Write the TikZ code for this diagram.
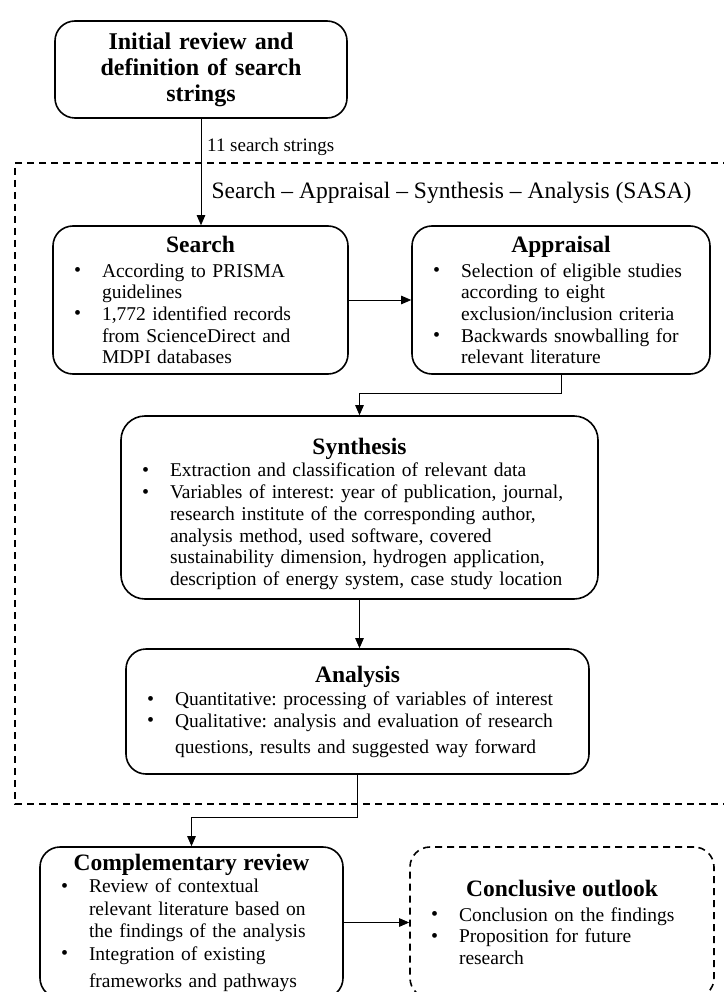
\documentclass[tikz,border=0pt]{standalone}
\usepackage{fontspec}
\setmainfont{Liberation Serif}
\usetikzlibrary{arrows.meta}

\newcommand\bulletglyph{\raisebox{0.5pt}{\fontsize{20}{20}\selectfont\textbullet}}
\newcommand\bitem[1]{{\leftskip=27pt\noindent\llap{\makebox[27pt][l]{\hspace{-1pt}\bulletglyph}}#1\par}}
\newcommand\btitle[1]{{\centering\fontsize{23.5}{25}\selectfont\bfseries #1\par}\vspace{3pt}}
\newcommand\bodyfont{\frenchspacing\fontsize{19.5}{21.7}\selectfont}

\tikzset{
  box/.style={draw, line width=1.6pt, rounded corners=20pt, inner xsep=22pt,
    inner ysep=0pt, align=left, font=\bodyfont},
  dbox/.style={box, dash pattern=on 7pt off 5pt},
  arr/.style={-{Triangle[length=10pt,width=8.5pt]}, line width=0.8pt},
  frame/.style={line width=1.5pt, dash pattern=on 7pt off 5pt}
}

\begin{document}
\begin{tikzpicture}[x=1pt,y=-1pt]
\useasboundingbox (0,0) rectangle (723,992);

\node[box, text width=248pt, minimum height=97pt, align=center,
      font=\fontsize{24}{26}\selectfont\bfseries] (top) at (201,69.5)
  {Initial review and\\definition of search\\strings};

\draw[frame] (730,163) -- (15,163) -- (15,804) -- (730,804);

\node[anchor=west, inner sep=0pt, font=\fontsize{19}{20}\selectfont] (lbl) at (207,147) {11 search strings};
\node[inner sep=0pt, font=\fontsize{23.5}{25}\selectfont] (sasa) at (451.5,193)
  {Search -- Appraisal -- Synthesis -- Analysis (SASA)};

\node[box, text width=251pt, minimum height=148pt] (search) at (200.5,300) {%
  \btitle{Search}
  \bitem{According to PRISMA\\guidelines}
  \bitem{1,772 identified records\\from ScienceDirect and\\MDPI databases}};

\node[box, text width=254pt, minimum height=148pt] (appr) at (561,300) {%
  \btitle{Appraisal}
  \bitem{Selection of eligible studies\\according to eight\\exclusion/inclusion criteria}
  \bitem{Backwards snowballing for\\relevant literature}};

\node[box, text width=433pt, minimum height=183pt, rounded corners=24pt] (synth) at (359.5,507.5) {%
  \par\vspace*{4pt}\btitle{Synthesis}\vspace{-2pt}
  \bitem{Extraction and classification of relevant data}
  \bitem{Variables of interest: year of publication, journal,\\research institute of the corresponding author,\\analysis method, used software, covered\\sustainability dimension, hydrogen application,\\description of energy system, case study location}};

\node[box, text width=419pt, minimum height=125pt] (anal) at (357.5,711.5) {%
  \btitle{Analysis}\vspace{-1pt}
  \bitem{Quantitative: processing of variables of interest}
  \bitem{Qualitative: analysis and evaluation of research\\[4pt]questions, results and suggested way forward}};

\node[box, text width=259pt, minimum height=151pt,
      font=\frenchspacing\fontsize{19.5}{22.6}\selectfont] (comp) at (191.5,922.5) {%
  \btitle{Complementary review}\vspace{-3pt}
  \bitem{Review of contextual\\relevant literature based on\\the findings of the analysis}
  \bitem{Integration of existing\\[4pt]frameworks and pathways}};

\node[dbox, text width=260pt, minimum height=151pt] (concl) at (562,922.5) {%
  \btitle{Conclusive outlook}
  \bitem{Conclusion on the findings}
  \bitem{Proposition for future\\research}};

\draw[arr] (top.south) -- (top.south |- search.north);
\draw[arr] (search.east) -- (appr.west);
\draw[arr] (appr.south) -- ++(0,19) -| (synth.north);
\draw[arr] (synth.south) -- (synth.south |- anal.north);
\draw[arr] (anal.south) -- ++(0,43) -| (comp.north);
\draw[arr] (comp.east) -- (concl.west);
\end{tikzpicture}
\end{document}
